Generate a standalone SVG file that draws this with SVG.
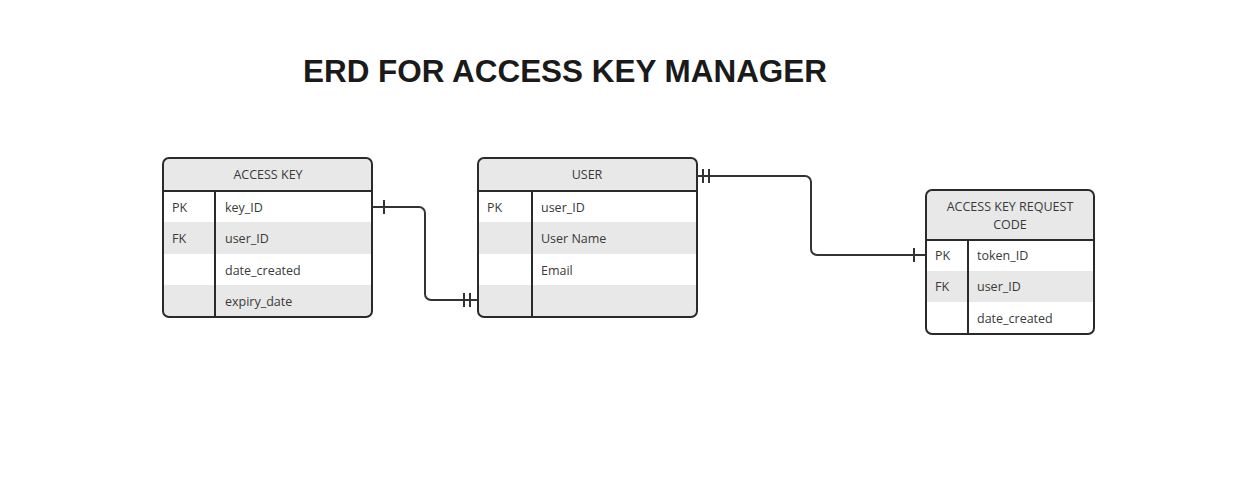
<svg xmlns="http://www.w3.org/2000/svg" width="1257" height="497" viewBox="0 0 1257 497">
<style>
.t{font-family:"Open Sans","Noto Sans",sans-serif;font-size:12.5px;fill:#3a3a3a}
.c{text-anchor:middle}
.band{fill:#e8e8e8}
.frame{fill:none;stroke:#2a2a2a;stroke-width:2}
.line{fill:none;stroke:#2a2a2a;stroke-width:2}
.conn{fill:none;stroke:#333;stroke-width:2}
</style>
<rect width="1257" height="497" fill="#fff"/>
<text x="303" y="82" font-family="'Liberation Sans',Arial,sans-serif" font-weight="bold" font-size="30.5" fill="#1a1a1a" textLength="524" lengthAdjust="spacingAndGlyphs">ERD FOR ACCESS KEY MANAGER</text>

<g id="access-key">
<rect x="163" y="158" width="209" height="159" rx="6" fill="#fff"/>
<path class="band" d="M169,158 H366 A6,6 0 0 1 372,164 V191 H163 V164 A6,6 0 0 1 169,158 Z"/>
<rect class="band" x="164" y="222" width="207" height="32"/>
<rect class="band" x="164" y="285" width="207" height="26"/>
<path class="band" d="M164,311 H371 V311 A5,5 0 0 1 366,316 H169 A5,5 0 0 1 164,311Z"/>
<rect class="frame" x="163" y="158" width="209" height="159" rx="6"/>
<line class="line" x1="163" y1="191" x2="372" y2="191"/>
<line class="line" x1="215" y1="191" x2="215" y2="317"/>
<text class="t c" x="268" y="179">ACCESS KEY</text>
<text class="t" x="172" y="212">PK</text><text class="t" x="225" y="212">key_ID</text>
<text class="t" x="172" y="243">FK</text><text class="t" x="225" y="243">user_ID</text>
<text class="t" x="225" y="275">date_created</text>
<text class="t" x="225" y="306">expiry_date</text>
</g>

<g id="user">
<rect x="478" y="158" width="219" height="159" rx="6" fill="#fff"/>
<path class="band" d="M484,158 H691 A6,6 0 0 1 697,164 V191 H478 V164 A6,6 0 0 1 484,158 Z"/>
<rect class="band" x="479" y="222" width="217" height="32"/>
<rect class="band" x="479" y="285" width="217" height="26"/>
<path class="band" d="M479,311 H696 A5,5 0 0 1 691,316 H484 A5,5 0 0 1 479,311Z"/>
<rect class="frame" x="478" y="158" width="219" height="159" rx="6"/>
<line class="line" x1="478" y1="191" x2="697" y2="191"/>
<line class="line" x1="532" y1="191" x2="532" y2="317"/>
<text class="t c" x="587" y="179">USER</text>
<text class="t" x="487" y="212">PK</text><text class="t" x="541" y="212">user_ID</text>
<text class="t" x="541" y="243">User Name</text>
<text class="t" x="541" y="275">Email</text>
</g>

<g id="access-key-request-code">
<rect x="926" y="190" width="168" height="144" rx="6" fill="#fff"/>
<path class="band" d="M932,190 H1088 A6,6 0 0 1 1094,196 V240 H926 V196 A6,6 0 0 1 932,190 Z"/>
<rect class="band" x="927" y="271" width="166" height="31"/>
<rect class="frame" x="926" y="190" width="168" height="144" rx="6"/>
<line class="line" x1="926" y1="240" x2="1094" y2="240"/>
<line class="line" x1="968" y1="240" x2="968" y2="334"/>
<text class="t c" x="1010" y="211">ACCESS KEY REQUEST</text>
<text class="t c" x="1010" y="229">CODE</text>
<text class="t" x="935" y="260">PK</text><text class="t" x="977" y="260">token_ID</text>
<text class="t" x="935" y="291">FK</text><text class="t" x="977" y="291">user_ID</text>
<text class="t" x="977" y="323">date_created</text>
</g>

<g id="connectors">
<path class="conn" d="M372,207 H419 A6,6 0 0 1 425,213 V294 A6,6 0 0 0 431,300 H478"/>
<line class="conn" x1="384" y1="200" x2="384" y2="214"/>
<line class="conn" x1="464" y1="293" x2="464" y2="307"/>
<line class="conn" x1="470" y1="293" x2="470" y2="307"/>
<path class="conn" d="M697,176 H805 A6,6 0 0 1 811,182 V249 A6,6 0 0 0 817,255 H926"/>
<line class="conn" x1="703" y1="169" x2="703" y2="183"/>
<line class="conn" x1="709" y1="169" x2="709" y2="183"/>
<line class="conn" x1="914" y1="248" x2="914" y2="262"/>
</g>
</svg>
